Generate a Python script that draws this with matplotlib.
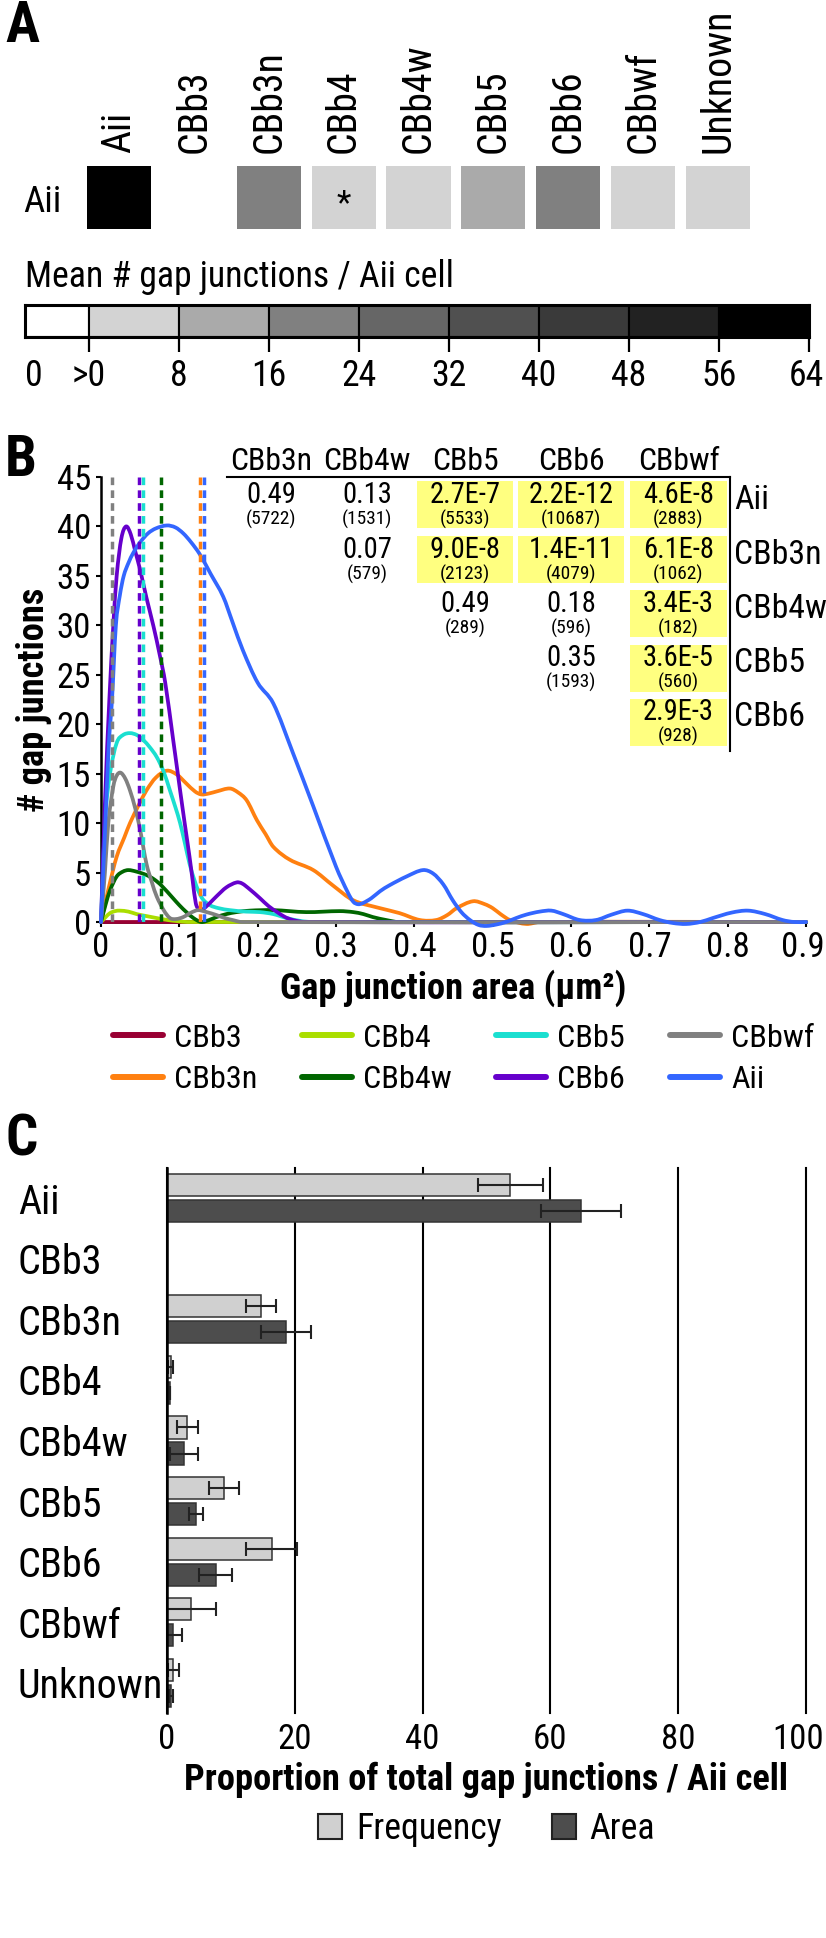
import numpy as np
import matplotlib
matplotlib.use('Agg')
import matplotlib.pyplot as plt
from matplotlib import font_manager
from matplotlib.font_manager import FontProperties
from matplotlib.textpath import TextPath
from matplotlib.colors import ListedColormap, BoundaryNorm
from matplotlib.lines import Line2D
from matplotlib.patches import Patch, Rectangle, PathPatch
from matplotlib.path import Path
from matplotlib.transforms import ScaledTranslation

# ---- pick a narrow / condensed sans if one is installed ----
_entries = font_manager.fontManager.ttflist
_names = {f.name for f in _entries}
_fam, _stretch = None, 'normal'
for nm in ['Liberation Sans Narrow', 'Arial Narrow', 'Noto Sans Condensed', 'DejaVu Sans Condensed',
           'Roboto Condensed', 'Open Sans Condensed', 'Noto Sans SemiCondensed']:
    if nm in _names:
        _fam = nm
        break
if _fam is None:
    for nm in ['Noto Sans', 'DejaVu Sans', 'Open Sans', 'Roboto']:
        st = [f.stretch for f in _entries if f.name == nm]
        for want in ['condensed', 'semi-condensed']:
            if want in st:
                _fam, _stretch = nm, want
                break
        if _fam:
            break
if _fam is None:
    _fam = 'Liberation Sans'
plt.rcParams['font.family'] = [_fam, 'Liberation Sans', 'DejaVu Sans']
plt.rcParams['font.stretch'] = _stretch


def fit(s, target_px, weight='normal'):
    fp = FontProperties(family=plt.rcParams['font.family'], weight=weight,
                        stretch=_stretch, size=100)
    w = TextPath((0, 0), s, size=100, prop=fp).get_extents().width
    return 100.0 * target_px * 0.72 / w


def adv(s, size_pt, weight='normal'):
    fp = FontProperties(family=plt.rcParams['font.family'], weight=weight,
                        stretch=_stretch, size=size_pt)
    return TextPath((0, 0), s, size=size_pt, prop=fp).get_extents().width / 0.72


# ---------------- data ----------------
cell_types = ['Aii', 'CBb3', 'CBb3n', 'CBb4', 'CBb4w', 'CBb5', 'CBb6', 'CBbwf', 'Unknown']
mean_gj_per_aii = [60.1, 0.0, 16.5, 0.7, 3.6, 10.0, 18.4, 4.1, 1.1]
starred = ['CBb4']
scale_edges = [0, 8, 16, 24, 32, 40, 48, 56, 64]
scale_colors = ['#ffffff', '#d3d3d3', '#aaaaaa', '#808080', '#666666',
                '#505050', '#3a3a3a', '#222222', '#000000']
scale_title = 'Mean # gap junctions / Aii cell'

series_order = ['CBb3', 'CBb3n', 'CBb4', 'CBb4w', 'CBb5', 'CBb6', 'CBbwf', 'Aii']
series_colors = {'CBb3': '#990033', 'CBb3n': '#ff8010', 'CBb4': '#aade00',
                 'CBb4w': '#006600', 'CBb5': '#1adfd0', 'CBb6': '#6600cc',
                 'CBbwf': '#808080', 'Aii': '#3366ff'}

cbb3_x = [0, 0.9]
cbb3_y = [0, 0]
cbb3n_x = [0, 0.01, 0.02, 0.03, 0.037, 0.048, 0.058, 0.07, 0.084, 0.097, 0.109, 0.12, 0.128,
           0.138, 0.1475, 0.1645, 0.175, 0.186, 0.199, 0.21, 0.22, 0.241, 0.271, 0.296, 0.322,
           0.356, 0.381, 0.407, 0.428, 0.442, 0.454, 0.475, 0.49, 0.5, 0.51, 0.522, 0.543, 0.56, 0.9]
cbb3n_y = [0, 3.5, 6.6, 8.6, 10, 11.8, 13.3, 14.6, 15.3, 14.9, 14.0, 13.2, 12.9,
           13.0, 13.2, 13.5, 13.1, 12.3, 10.3, 8.9, 7.6, 6.3, 5.25, 3.7, 2.2,
           1.4, 0.9, 0.2, 0.2, 0.7, 1.4, 2.1, 1.8, 1.4, 0.8, 0.2, -0.2, 0, 0]
cbb4_x = [0, 0.006, 0.0115, 0.018, 0.024, 0.035, 0.0455, 0.058, 0.071, 0.085, 0.096, 0.11, 0.9]
cbb4_y = [0, 0.5, 0.9, 1.1, 1.15, 1.05, 0.8, 0.6, 0.4, 0.2, 0.1, 0, 0]
cbb4w_x = [0, 0.006, 0.0115, 0.02, 0.028, 0.035, 0.045, 0.058, 0.068, 0.077, 0.092, 0.1, 0.109,
           0.118, 0.128, 0.138, 0.1475, 0.16, 0.173, 0.19, 0.22, 0.262, 0.305, 0.322, 0.335,
           0.347, 0.364, 0.38, 0.9]
cbb4w_y = [0, 1.8, 3.2, 4.6, 5.1, 5.25, 5.1, 4.75, 4.3, 3.7, 2.4, 1.7, 1.0,
           0.4, 0.0, 0.2, 0.5, 0.8, 1.0, 1.15, 1.2, 1.0, 1.1, 1.0, 0.8,
           0.5, 0.2, 0, 0]
cbb5_x = [0, 0.005, 0.0115, 0.02, 0.028, 0.037, 0.046, 0.054, 0.062, 0.071, 0.08, 0.088, 0.095,
          0.101, 0.107, 0.113, 0.119, 0.124, 0.13, 0.139, 0.15, 0.1645, 0.185, 0.203, 0.22,
          0.237, 0.255, 0.27, 0.9]
cbb5_y = [0, 10, 15, 18.1, 18.9, 19.1, 18.9, 18.4, 17.7, 16.7, 15.2, 13.3, 11.6,
          10, 8, 5.9, 4.3, 3.2, 2.3, 1.7, 1.4, 1.2, 1.05, 1.0, 0.8,
          0.4, 0.1, 0, 0]
cbb6_x = [0, 0.005, 0.0106, 0.0157, 0.02, 0.026, 0.032, 0.038, 0.044, 0.05, 0.058, 0.067, 0.075,
          0.082, 0.092, 0.101, 0.107, 0.113, 0.117, 0.121, 0.125, 0.128, 0.132, 0.14, 0.1475,
          0.16, 0.173, 0.18, 0.19, 0.203, 0.214, 0.224, 0.235, 0.245, 0.26, 0.9]
cbb6_y = [0, 12, 22.4, 30, 35, 38.8, 40, 39.2, 37.4, 35.6, 32.8, 29.9, 27,
          24.2, 18.5, 13.3, 9.9, 6.6, 4.2, 1.9, 1.3, 1.2, 1.4, 2.0, 2.6,
          3.5, 4.0, 3.9, 3.3, 2.4, 1.6, 1.05, 0.5, 0.2, 0, 0]
cbbwf_x = [0, 0.005, 0.0093, 0.0157, 0.02, 0.025, 0.031, 0.037, 0.044, 0.05, 0.058, 0.065,
           0.071, 0.08, 0.088, 0.096, 0.105, 0.115, 0.124, 0.135, 0.1475, 0.158, 0.168, 0.18, 0.9]
cbbwf_y = [0, 5, 10, 13.7, 14.8, 15.1, 14.5, 13.3, 11.4, 9.3, 5.9, 4.0,
           2.6, 1.2, 0.4, 0.3, 0.5, 0.95, 1.2, 1.0, 0.7, 0.4, 0.2, 0, 0]
aii_x = [0, 0.005, 0.01, 0.014, 0.019, 0.024, 0.029, 0.035, 0.041, 0.05, 0.06, 0.07, 0.084,
         0.095, 0.105, 0.115, 0.126, 0.14, 0.156, 0.168, 0.181, 0.2, 0.22, 0.245, 0.271, 0.3,
         0.315, 0.322, 0.328, 0.334, 0.345, 0.356, 0.368, 0.39, 0.411, 0.424, 0.437, 0.449,
         0.46, 0.471, 0.482, 0.492, 0.505, 0.517, 0.53, 0.543, 0.56, 0.575, 0.59, 0.611, 0.632,
         0.652, 0.672, 0.692, 0.713, 0.73, 0.747, 0.765, 0.781, 0.805, 0.826, 0.848, 0.87,
         0.885, 0.9]
aii_y = [0, 9, 18, 22.4, 30, 33, 35, 36.3, 37.3, 38.4, 39.3, 39.8, 40.1,
         39.9, 39.3, 38.4, 37.2, 35.2, 32.9, 30.3, 27.5, 24.2, 22.1, 17.1, 11.7, 5.6,
         3.0, 2.05, 1.8, 1.9, 2.4, 3.1, 3.7, 4.6, 5.25, 4.9, 3.8, 2.2,
         1.0, 0.2, -0.3, -0.4, -0.25, 0, 0.4, 0.75, 1.05, 1.15, 0.8, 0.2, 0.2,
         0.75, 1.15, 0.8, 0.2, -0.1, -0.2, 0, 0.4, 0.95, 1.15, 0.8, 0.2,
         0, 0]
curves = {'CBb3': (cbb3_x, cbb3_y), 'CBb3n': (cbb3n_x, cbb3n_y), 'CBb4': (cbb4_x, cbb4_y),
          'CBb4w': (cbb4w_x, cbb4w_y), 'CBb5': (cbb5_x, cbb5_y), 'CBb6': (cbb6_x, cbb6_y),
          'CBbwf': (cbbwf_x, cbbwf_y), 'Aii': (aii_x, aii_y)}
median_area = {'CBbwf': 0.014, 'CBb6': 0.049, 'CBb5': 0.053, 'CBb4w': 0.077,
               'CBb3n': 0.126, 'Aii': 0.131}

table_cols = ['CBb3n', 'CBb4w', 'CBb5', 'CBb6', 'CBbwf']
table_rows = ['Aii', 'CBb3n', 'CBb4w', 'CBb5', 'CBb6']
p_values = [["0.49", "0.13", "2.7E-7", "2.2E-12", "4.6E-8"],
            [None, "0.07", "9.0E-8", "1.4E-11", "6.1E-8"],
            [None, None, "0.49", "0.18", "3.4E-3"],
            [None, None, None, "0.35", "3.6E-5"],
            [None, None, None, None, "2.9E-3"]]
n_values = [[5722, 1531, 5533, 10687, 2883],
            [None, 579, 2123, 4079, 1062],
            [None, None, 289, 596, 182],
            [None, None, None, 1593, 560],
            [None, None, None, None, 928]]
alpha = 0.05

freq_pct = [53.7, 0.0, 14.7, 0.6, 3.2, 8.9, 16.4, 3.7, 1.0]
freq_err = [5.1, 0.0, 2.4, 0.4, 1.6, 2.4, 4.0, 3.9, 0.9]
area_pct = [64.8, 0.0, 18.6, 0.4, 2.7, 4.5, 7.6, 1.0, 0.6]
area_err = [6.2, 0.0, 3.9, 0.0, 2.2, 1.1, 2.6, 1.3, 0.3]

# ---------------- font sizes fitted to the reference text widths ----------------
S_COL = fit('Unknown', 139)
S_ROW = fit('Aii', 35)
S_TITLE = fit(scale_title, 423)
S_CBT = S_TITLE
S_BT = 0.5 * (fit('45', 33) + fit('0.9', 38))
S_HEAD = fit('CBb3n', 78)
S_VAL = fit('2.2E-12', 95) * 0.87
S_CNT = fit('(10687)', 66) * 0.87
S_RLAB = fit('CBb3n', 83)
S_LEGB = fit('CBb3', 72)
S_BOLD = fit('Proportion of total gap junctions / Aii cell', 599, 'bold')
S_CCAT = fit('Unknown', 140)
S_CT = fit('100', 47)
S_LEGC = fit('Frequency', 142)
S_LETTER = fit('B', 26, 'bold')

# ---------------- figure ----------------
W, H = 826, 1938
fig = plt.figure(figsize=(W / 100, H / 100), dpi=100)
renderer = fig.canvas.get_renderer()


def pt(px):
    return px * 0.72


def add_ax(l, t, r, b):
    return fig.add_axes([l / W, 1 - b / H, (r - l) / W, (b - t) / H])


def ftext(x, y, s, **kw):
    return fig.text(x / W, 1 - y / H, s, **kw)


def shift_label(lab, dx_px):
    lab.set_transform(lab.get_transform() + ScaledTranslation(dx_px / 100, 0, fig.dpi_scale_trans))


def smooth_path(xs, ys):
    x = np.asarray(xs, float)
    y = np.asarray(ys, float)
    n = len(x)
    m = np.empty(n)
    m[1:-1] = (y[2:] - y[:-2]) / (x[2:] - x[:-2])
    m[0] = (y[1] - y[0]) / (x[1] - x[0])
    m[-1] = (y[-1] - y[-2]) / (x[-1] - x[-2])
    verts = [(x[0], y[0])]
    codes = [Path.MOVETO]
    for i in range(n - 1):
        dx = x[i + 1] - x[i]
        verts += [(x[i] + dx / 3, y[i] + m[i] * dx / 3),
                  (x[i + 1] - dx / 3, y[i + 1] - m[i + 1] * dx / 3),
                  (x[i + 1], y[i + 1])]
        codes += [Path.CURVE4] * 3
    return Path(verts, codes)


# panel letters
for letter, yy in [('A', 27), ('B', 460), ('C', 1140)]:
    ftext(5, yy, letter, ha='left', va='center', fontsize=S_LETTER, fontweight='bold')

# ---------------- Panel A ----------------
cmap = ListedColormap(scale_colors)
norm = BoundaryNorm([0, 1e-6] + scale_edges[1:], ncolors=len(scale_colors), clip=True)
ax_h = add_ax(81.55, 166, 755.45, 229)
idx = np.arange(len(cell_types))
ax_h.bar(idx, np.ones(len(idx)), width=0.855, color=cmap(norm(mean_gj_per_aii)), align='center')
ax_h.set_xlim(-0.5, len(idx) - 0.5)
ax_h.set_ylim(0, 1)
for s in ax_h.spines.values():
    s.set_visible(False)
ax_h.xaxis.tick_top()
ax_h.set_xticks(idx)
ax_h.set_xticklabels(cell_types, rotation=90, fontsize=S_COL)
ax_h.tick_params(axis='x', length=0, pad=pt(13))
ax_h.set_yticks([0.5])
ax_h.set_yticklabels(['Aii'], fontsize=S_ROW)
ax_h.tick_params(axis='y', length=0, pad=pt(20))
for name in starred:
    ax_h.text(cell_types.index(name), 0.4, '*', ha='center', va='center', fontsize=S_ROW * 0.9)

ftext(25, 277, scale_title, ha='left', va='center', fontsize=S_TITLE)

zero_w = 8 * 64 / 90.0
ax_c = add_ax(25, 305, 809, 337)
lefts = [-zero_w] + scale_edges[:-1]
widths = [zero_w] + list(np.diff(scale_edges))
ax_c.bar(lefts, np.ones(len(lefts)), width=widths, align='edge', color=scale_colors,
         edgecolor='black', linewidth=1.5)
ax_c.set_xlim(-zero_w, scale_edges[-1])
ax_c.set_ylim(0, 1)
ax_c.set_yticks([])
for s in ax_c.spines.values():
    s.set_linewidth(2.2)
ax_c.set_xticks([-zero_w] + scale_edges)
ax_c.set_xticklabels(['0', '>0'] + [str(e) for e in scale_edges[1:]], fontsize=S_CBT)
ax_c.tick_params(axis='x', direction='out', length=pt(15), width=1.6, pad=4)
ticks = ax_c.xaxis.get_major_ticks()
ticks[0].tick1line.set_visible(False)
ticks[0].label1.set_horizontalalignment('left')
shift_label(ticks[-1].label1, -3)

# ---------------- Panel B ----------------
ax_b = add_ax(101, 477, 806, 922)
for name in series_order:
    xs, ys = curves[name]
    ax_b.add_patch(PathPatch(smooth_path(xs, ys), fill=False, edgecolor=series_colors[name],
                             lw=2.7, clip_on=False, capstyle='round', joinstyle='round',
                             zorder=3))
for name, m in median_area.items():
    ax_b.plot([m, m], [45, 0], color=series_colors[name], lw=2.5,
              dashes=(2.2, 1.5), zorder=4)
ax_b.set_xlim(0, 0.9)
ax_b.set_ylim(0, 45)
ax_b.set_xticks(np.arange(0, 0.91, 0.1))
ax_b.set_xticklabels(['0'] + ['%.1f' % v for v in np.arange(0.1, 0.91, 0.1)])
ax_b.set_yticks(np.arange(0, 46, 5))
ax_b.tick_params(axis='both', direction='out', length=pt(5), width=1.5, labelsize=S_BT)
ax_b.tick_params(axis='x', pad=3)
ax_b.tick_params(axis='y', pad=3.5)
shift_label(ax_b.xaxis.get_major_ticks()[-1].label1, -3)
ax_b.spines['top'].set_visible(False)
ax_b.spines['right'].set_visible(False)
ax_b.spines['left'].set_linewidth(1.8)
ax_b.spines['bottom'].set_linewidth(1.8)
ftext(34, 700, '# gap junctions', rotation=90, ha='center', va='center',
      fontsize=S_BOLD, fontweight='bold')
ftext(453, 988, 'Gap junction area (\u00b5m\u00b2)', ha='center', va='center',
      fontsize=S_BOLD, fontweight='bold')

handles = [Line2D([0], [0], color=series_colors[n], lw=4.3, solid_capstyle='round')
           for n in series_order]
legB = None
for _ in range(6):
    fsb = S_LEGB / 0.72
    w1 = max(adv('CBb3', S_LEGB), adv('CBb3n', S_LEGB))
    if legB is not None:
        legB.remove()
    legB = fig.legend(handles, series_order, loc='upper left',
                      bbox_to_anchor=(113 / W, 1 - (1039 - 0.5 * 0.95 * fsb) / H),
                      ncol=4, frameon=False, fontsize=S_LEGB, handlelength=50 / fsb,
                      handletextpad=11 / fsb, columnspacing=max(0.2, (185 - 61 - w1) / fsb),
                      labelspacing=max(0.1, 43 / fsb - 0.95), borderpad=0, borderaxespad=0)
    right = legB.get_window_extent(renderer).x1
    if right <= 816:
        break
    S_LEGB *= 0.96

# table
ax_t = fig.add_axes([0, 0, 1, 1])
ax_t.set_xlim(0, W)
ax_t.set_ylim(H, 0)
ax_t.axis('off')
ax_t.patch.set_visible(False)
col_x = [271, 367, 465, 571, 678.5]
col_w = [96, 96, 96, 106, 97]
row_y = [504.5, 559.5, 613.5, 668, 722]
for j, c in enumerate(table_cols):
    ax_t.text(col_x[j], 461, c, ha='center', va='center', fontsize=S_HEAD)
for i, r in enumerate(table_rows):
    ax_t.text(734, row_y[i] - 5, r, ha='left', va='center', fontsize=S_RLAB)
    for j in range(len(table_cols)):
        p = p_values[i][j]
        if p is None:
            continue
        if float(p) < alpha:
            ax_t.add_patch(Rectangle((col_x[j] - col_w[j] / 2, row_y[i] - 23.5), col_w[j], 47,
                                     facecolor='#ffff80', edgecolor='none', zorder=1))
        ax_t.text(col_x[j], row_y[i] - 10, p, ha='center', va='center',
                  fontsize=S_VAL, zorder=2)
        ax_t.text(col_x[j], row_y[i] + 14.5, '(%d)' % n_values[i][j], ha='center', va='center',
                  fontsize=S_CNT, zorder=2)
ax_t.plot([227, 730], [477, 477], color='black', lw=1.5)
ax_t.plot([730, 730], [477, 751], color='black', lw=1.5)

# ---------------- Panel C ----------------
ax_p = add_ax(167, 1168, 806, 1713)
ypos = np.arange(len(cell_types))
off, bh = 0.215, 0.364
ax_p.barh(ypos - off, freq_pct, height=bh, color='#d0d0d0', edgecolor='#333333',
          linewidth=1.1, zorder=2)
ax_p.barh(ypos + off, area_pct, height=bh, color='#4d4d4d', edgecolor='#333333',
          linewidth=1.1, zorder=2)
fm = np.array(freq_pct) > 0
am = np.array(area_pct) > 0
ax_p.errorbar(np.array(freq_pct)[fm], (ypos - off)[fm], xerr=np.array(freq_err)[fm], fmt='none',
              ecolor='#222222', elinewidth=1.5, capsize=4.7, capthick=1.5, zorder=3)
ax_p.errorbar(np.array(area_pct)[am], (ypos + off)[am], xerr=np.array(area_err)[am], fmt='none',
              ecolor='#222222', elinewidth=1.5, capsize=4.7, capthick=1.5, zorder=3)
ax_p.set_xlim(0, 100)
ax_p.set_ylim(len(cell_types) - 0.5, -0.5)
ax_p.set_xticks(np.arange(0, 101, 20))
ax_p.xaxis.grid(True, color='black', lw=1.5)
for gl in ax_p.get_xgridlines():
    gl.set_clip_on(False)
ax_p.set_axisbelow(True)
for k in ['top', 'right', 'bottom']:
    ax_p.spines[k].set_visible(False)
ax_p.spines['left'].set_linewidth(1.8)
ax_p.spines['left'].set_zorder(4)
ax_p.tick_params(axis='x', length=0, labelsize=S_CT, pad=7)
shift_label(ax_p.xaxis.get_major_ticks()[-1].label1, -8)
ax_p.set_yticks(ypos)
ax_p.set_yticklabels(cell_types, fontsize=S_CCAT)
for lab in ax_p.get_yticklabels():
    lab.set_horizontalalignment('left')
ax_p.tick_params(axis='y', length=0, pad=pt(167 - 18))
ftext(486, 1780, 'Proportion of total gap junctions / Aii cell', ha='center', va='center',
      fontsize=S_BOLD, fontweight='bold')
fsc = S_LEGC / 0.72
wf = adv('Frequency', S_LEGC)
fig.legend([Patch(facecolor='#d0d0d0', edgecolor='#222222', lw=1.5),
            Patch(facecolor='#4d4d4d', edgecolor='#222222', lw=1.5)],
           ['Frequency', 'Area'], loc='upper left',
           bbox_to_anchor=(318 / W, 1 - (1828 - 0.5 * max(0.95 * fsc, 25)) / H),
           ncol=2, frameon=False, fontsize=S_LEGC, handlelength=24 / fsc,
           handleheight=25 / fsc, handletextpad=14 / fsc,
           columnspacing=max(0.2, (230 - 38 - wf) / fsc),
           borderpad=0, borderaxespad=0)

fig.savefig('out.png', dpi=100)
